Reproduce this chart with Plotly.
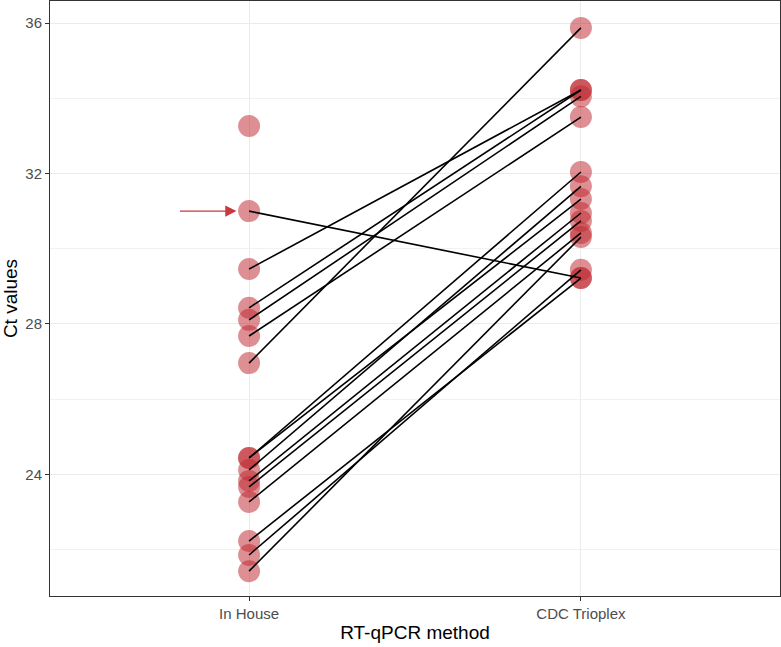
import plotly.graph_objects as go

methods = ["In House", "CDC Trioplex"]
# paired Ct values (In House -> CDC Trioplex)
in_house = [31.00, 29.46, 28.43, 28.11, 27.68, 26.96, 24.44, 24.44, 24.12, 23.83, 23.67, 23.27, 22.23, 21.86, 21.43]
cdc      = [29.22, 34.22, 34.22, 34.05, 33.50, 35.87, 32.04, 31.32, 31.66, 30.95, 30.74, 30.42, 29.22, 29.44, 30.31]
# In House sample without a CDC pair
in_house_unpaired = [33.26]
y_ticks = [24, 28, 32, 36]
y_minor = [22, 26, 30, 34]

pt_color = "rgba(190,40,48,0.52)"

fig = go.Figure()

xs, ys = [], []
for a, b in zip(in_house, cdc):
    xs += [1, 2, None]
    ys += [a, b, None]

all_x = [1] * len(in_house) + [1] * len(in_house_unpaired) + [2] * len(cdc)
all_y = in_house + in_house_unpaired + cdc
fig.add_trace(go.Scatter(x=all_x, y=all_y, mode="markers",
                         marker=dict(size=22, color=pt_color, line=dict(width=0)),
                         hoverinfo="skip", showlegend=False))
fig.add_trace(go.Scatter(x=xs, y=ys, mode="lines",
                         line=dict(color="black", width=1.6),
                         hoverinfo="skip", showlegend=False))

fig.add_annotation(x=0.962, y=in_house[0], ax=0.787, ay=in_house[0],
                   xref="x", yref="y", axref="x", ayref="y",
                   text="", showarrow=True, arrowhead=2, arrowsize=1.6,
                   arrowwidth=1.4, arrowcolor="#C8383C")

grid = "#EBEBEB"
fig.update_layout(
    width=781, height=647,
    margin=dict(l=50, r=1, t=1, b=51),
    plot_bgcolor="white", paper_bgcolor="white",
    font=dict(family="Liberation Sans, Arial, sans-serif", color="black"),
    xaxis=dict(range=[0.4, 2.6], tickvals=[1, 2], ticktext=methods,
               showgrid=True, gridcolor=grid, gridwidth=1.1,
               ticks="outside", ticklen=4, tickcolor="#333333", tickwidth=1,
               tickfont=dict(size=15, color="#4D4D4D"),
               showline=True, linecolor="#333333", linewidth=1, mirror=True,
               zeroline=False,
               title=dict(text="RT-qPCR method", font=dict(size=19), standoff=4)),
    yaxis=dict(range=[20.77, 36.585], tickvals=y_ticks,
               showgrid=True, gridcolor=grid, gridwidth=1.1,
               minor=dict(tickvals=y_minor, showgrid=True, gridcolor="#F2F2F2",
                          gridwidth=0.6, ticks=""),
               ticks="outside", ticklen=4, tickcolor="#333333", tickwidth=1,
               tickfont=dict(size=15, color="#4D4D4D"),
               showline=True, linecolor="#333333", linewidth=1, mirror=True,
               zeroline=False,
               title=dict(text="Ct values", font=dict(size=19), standoff=3)),
)

fig.write_html("out.html")
